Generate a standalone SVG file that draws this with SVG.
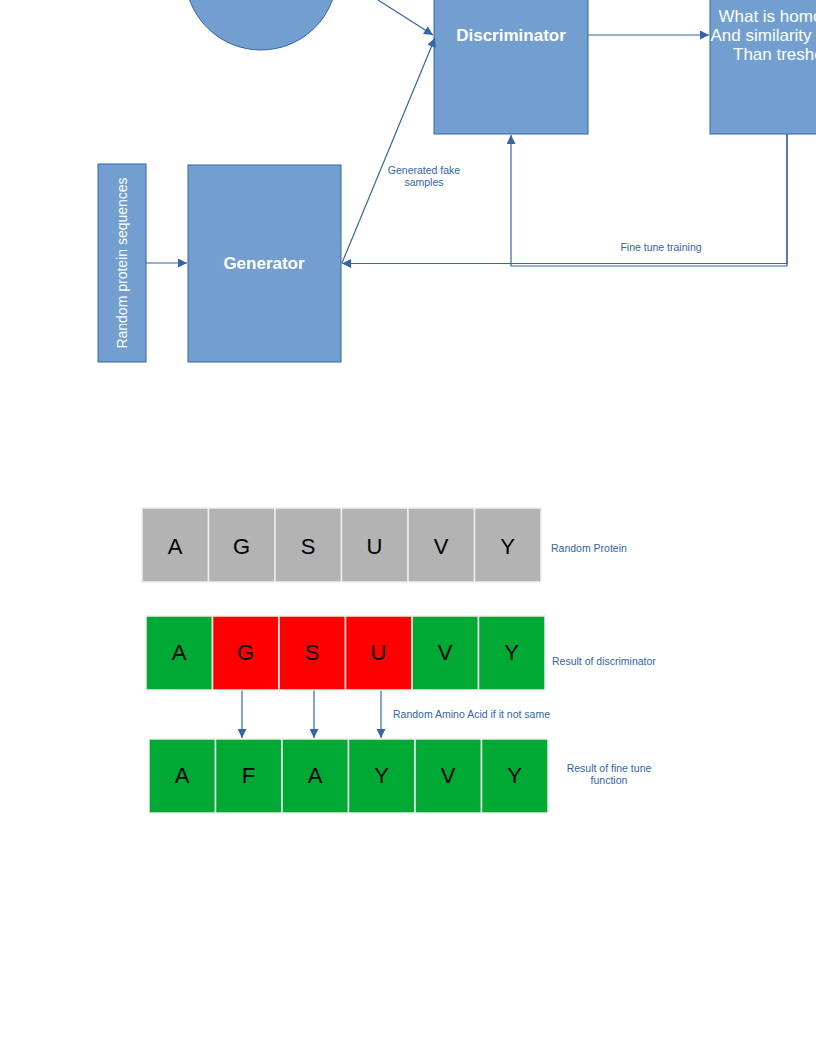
<svg xmlns="http://www.w3.org/2000/svg" width="816" height="1056" viewBox="0 0 816 1056">
<defs>
<marker id="ah" viewBox="0 0 10 10" refX="10" refY="5" markerWidth="11" markerHeight="9" markerUnits="userSpaceOnUse" orient="auto"><path d="M0,0 L10,5 L0,10 z" fill="#3465a4"/></marker>
</defs>
<style>
.box{fill:#729fcf;stroke:#3465a4;stroke-width:1}
.bt{font-family:"Liberation Sans",Arial,sans-serif;fill:#ffffff;text-anchor:middle}
.lbl{font-family:"Liberation Sans",Arial,sans-serif;fill:#3465a4;font-size:10.5px}
.con{fill:none;stroke:#3465a4;stroke-width:1.2}
.cell{stroke:#eeeeee;stroke-width:1.5}
.gray{fill:#b3b3b3}
.green{fill:#00a933}
.red{fill:#ff0000}
.let{font-family:"Liberation Sans",Arial,sans-serif;font-size:22px;fill:#000000;text-anchor:middle}
</style>
<rect width="816" height="1056" fill="#ffffff"/>

<g id="circle"><circle class="box" cx="261" cy="-26" r="76"/></g>
<g id="discriminator"><rect class="box" x="434" y="-30" width="154" height="164"/><text class="bt" x="511" y="41" font-size="17" font-weight="bold">Discriminator</text></g>
<g id="threshold"><rect class="box" x="710" y="-30" width="154" height="164"/>
<text class="bt" x="786" y="22" font-size="17">What is homology</text>
<text class="bt" x="787" y="41" font-size="17">And similarity higher</text>
<text class="bt" x="785" y="60" font-size="17">Than treshold</text></g>
<g id="random-seq"><rect class="box" x="98" y="164" width="48" height="198"/><text class="bt" font-size="14" transform="translate(127,263) rotate(-90)">Random protein sequences</text></g>
<g id="generator"><rect class="box" x="188" y="165" width="153" height="197"/><text class="bt" x="264" y="269" font-size="17" font-weight="bold">Generator</text></g>

<g id="connectors">
<line class="con" x1="378" y1="0" x2="433" y2="35" marker-end="url(#ah)"/>
<line class="con" x1="588" y1="35" x2="709" y2="35" marker-end="url(#ah)"/>
<line class="con" x1="146" y1="263" x2="187" y2="263" marker-end="url(#ah)"/>
<line class="con" x1="342" y1="263" x2="435" y2="38" marker-end="url(#ah)"/>
<polyline class="con" points="787,134 787,263.5 342,263.5" marker-end="url(#ah)"/>
<polyline class="con" points="787,134 787,266 511,266 511,135" marker-end="url(#ah)"/>
<line class="con" x1="242" y1="690" x2="242" y2="738" marker-end="url(#ah)"/>
<line class="con" x1="314" y1="690" x2="314" y2="738" marker-end="url(#ah)"/>
<line class="con" x1="381" y1="690" x2="381" y2="738" marker-end="url(#ah)"/>
<text class="lbl" x="424" y="174" text-anchor="middle">Generated fake</text>
<text class="lbl" x="424" y="186" text-anchor="middle">samples</text>
<text class="lbl" x="661" y="251" text-anchor="middle">Fine tune training</text>
<text class="lbl" x="393" y="718">Random Amino Acid if it not same</text>
</g>

<g id="random-protein">
<rect class="cell gray" x="142" y="508" width="66.5" height="74"/>
<rect class="cell gray" x="208.5" y="508" width="66.5" height="74"/>
<rect class="cell gray" x="275" y="508" width="66.5" height="74"/>
<rect class="cell gray" x="341.5" y="508" width="66.5" height="74"/>
<rect class="cell gray" x="408" y="508" width="66.5" height="74"/>
<rect class="cell gray" x="474.5" y="508" width="66.5" height="74"/>
<text class="let" x="175" y="554">A</text>
<text class="let" x="241.5" y="554">G</text>
<text class="let" x="308" y="554">S</text>
<text class="let" x="374.5" y="554">U</text>
<text class="let" x="441" y="554">V</text>
<text class="let" x="507.5" y="554">Y</text>
<text class="lbl" x="551" y="552">Random Protein</text>
</g>

<g id="discriminator-result">
<rect class="cell green" x="146" y="616" width="66.5" height="74"/>
<rect class="cell red" x="212.5" y="616" width="66.5" height="74"/>
<rect class="cell red" x="279" y="616" width="66.5" height="74"/>
<rect class="cell red" x="345.5" y="616" width="66.5" height="74"/>
<rect class="cell green" x="412" y="616" width="66.5" height="74"/>
<rect class="cell green" x="478.5" y="616" width="66.5" height="74"/>
<text class="let" x="179" y="660">A</text>
<text class="let" x="245.5" y="660">G</text>
<text class="let" x="312" y="660">S</text>
<text class="let" x="378.5" y="660">U</text>
<text class="let" x="445" y="660">V</text>
<text class="let" x="511.5" y="660">Y</text>
<text class="lbl" x="552" y="665">Result of discriminator</text>
</g>

<g id="fine-tune-result">
<rect class="cell green" x="149" y="739" width="66.5" height="74"/>
<rect class="cell green" x="215.5" y="739" width="66.5" height="74"/>
<rect class="cell green" x="282" y="739" width="66.5" height="74"/>
<rect class="cell green" x="348.5" y="739" width="66.5" height="74"/>
<rect class="cell green" x="415" y="739" width="66.5" height="74"/>
<rect class="cell green" x="481.5" y="739" width="66.5" height="74"/>
<text class="let" x="182" y="783">A</text>
<text class="let" x="248.5" y="783">F</text>
<text class="let" x="315" y="783">A</text>
<text class="let" x="381.5" y="783">Y</text>
<text class="let" x="448" y="783">V</text>
<text class="let" x="514.5" y="783">Y</text>
<text class="lbl" x="609" y="772" text-anchor="middle">Result of fine tune</text>
<text class="lbl" x="609" y="784" text-anchor="middle">function</text>
</g>
</svg>
